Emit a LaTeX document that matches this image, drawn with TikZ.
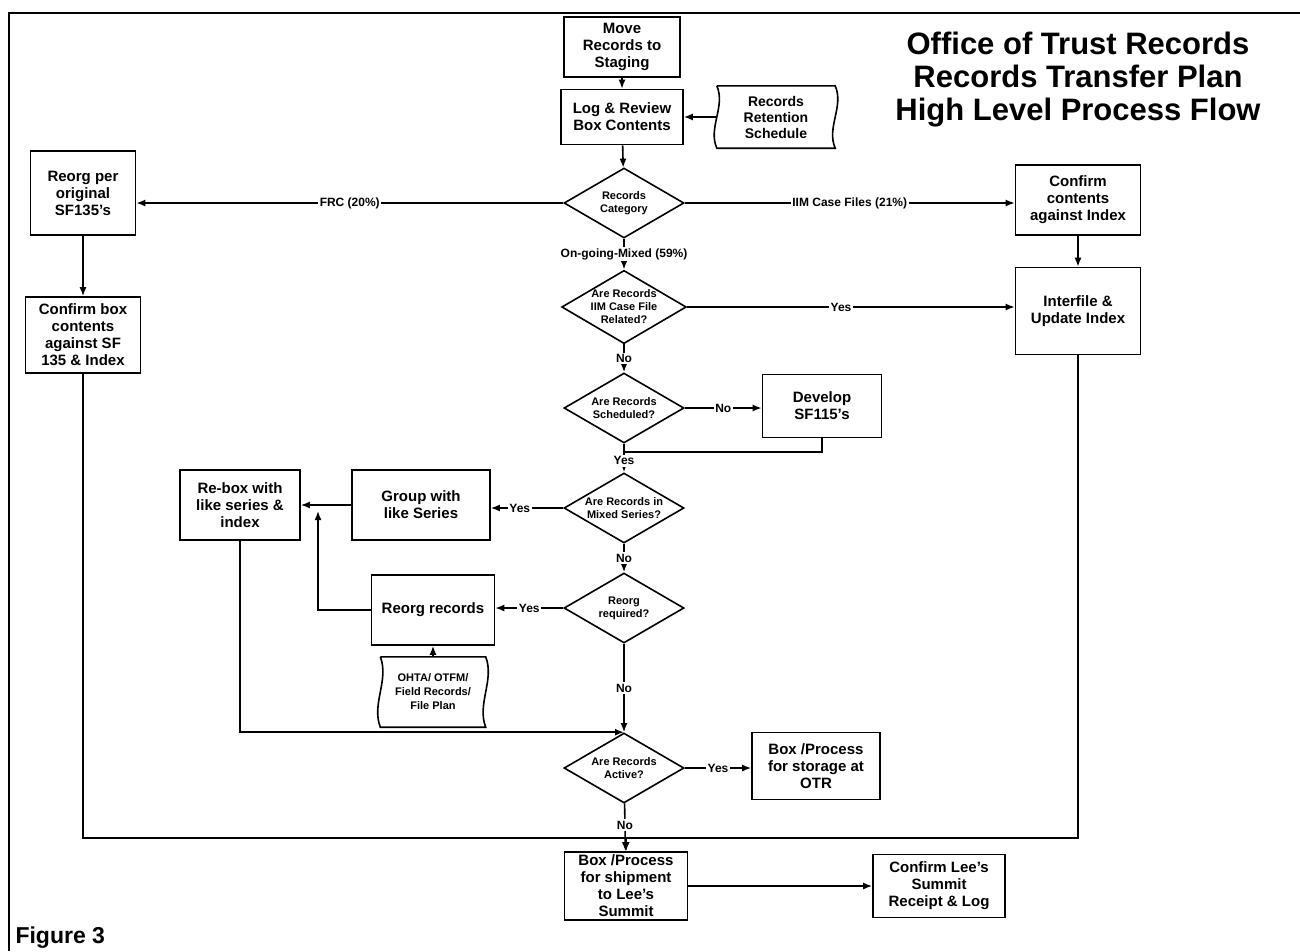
\documentclass[tikz,border=0pt]{standalone}
\usepackage{fontspec}
\setmainfont{Liberation Sans}
\usetikzlibrary{shapes.geometric,arrows.meta,calc}

% outline with wavy sides for the record sources
\newcommand{\tapeshape}[1]{%
  \draw[line width=1.6pt] (#1.north west) -- (#1.north east)
    .. controls ($(#1.north east)!0.33!(#1.south east)+(9,0)$) and ($(#1.north east)!0.67!(#1.south east)+(-9,0)$) .. (#1.south east)
    -- (#1.south west)
    .. controls ($(#1.north west)!0.67!(#1.south west)+(-9,0)$) and ($(#1.north west)!0.33!(#1.south west)+(9,0)$) .. (#1.north west);}

\begin{document}
\begin{tikzpicture}[x=1pt,y=-1pt] \tikzset{% This is the style settings for nodes
        box/.style={draw,line width=1.6pt,align=center,inner sep=2pt,font=\fontsize{15}{17}\selectfont\bfseries},
        dec/.style={diamond,draw,line width=1.6pt,aspect=1.7,inner sep=0pt,align=center,minimum width=120pt,minimum height=70pt,font=\fontsize{11}{13}\selectfont\bfseries},
        tape/.style={align=center,inner sep=2pt},
        lbl/.style={fill=white,inner sep=1.5pt,font=\fontsize{12}{14}\selectfont\bfseries},
        arr/.style={-{Latex[length=9pt,width=7pt]},line width=1.6pt},
        ln/.style={line width=1.6pt},
        }
        \useasboundingbox (0,0) rectangle (1300,951);
        \draw[line width=2pt] (9,951) -- (9,13) -- (1300,13);
        % Nodes
        \node[align=center,font=\fontsize{31}{33}\selectfont\bfseries] (title) at (1078,80) {Office of Trust Records\\Records Transfer Plan\\High Level Process Flow};
        \node[anchor=west,font=\fontsize{23}{26}\selectfont\bfseries] (fig) at (12,938) {Figure 3};
        \node[box,minimum width=116pt,minimum height=60pt] (move) at (622,47) {Move\\Records to\\Staging};
        \node[box,minimum width=122pt,minimum height=55pt] (log) at (622,117) {Log \& Review\\Box Contents};
        \node[tape,minimum width=118pt,minimum height=62pt,font=\fontsize{14}{16}\selectfont\bfseries] (ret) at (776,117) {Records\\Retention\\Schedule}; \tapeshape{ret}
        \node[dec] (cat) at (624,203) {Records\\Category};
        \node[box,minimum width=105pt,minimum height=84pt] (reorgp) at (83,193) {Reorg per\\original\\SF135's};
        \node[box,minimum width=125pt,minimum height=70pt] (confc) at (1078,200) {Confirm\\contents\\against Index};
        \node[dec] (iim) at (624,307) {Are Records\\IIM Case File\\Related?};
        \node[box,minimum width=125pt,minimum height=87pt] (interf) at (1078,311) {Interfile \&\\Update Index};
        \node[box,minimum width=115pt,minimum height=76pt] (confb) at (83,335) {Confirm box\\contents\\against SF\\135 \& Index};
        \node[dec] (sched) at (624,408) {Are Records\\Scheduled?};
        \node[box,minimum width=119pt,minimum height=63pt] (develop) at (822,406) {Develop\\SF115's};
        \node[dec] (mixed) at (624,508) {Are Records in\\Mixed Series?};
        \node[box,minimum width=138pt,minimum height=70pt] (group) at (421,505) {Group with\\like Series};
        \node[box,minimum width=120pt,minimum height=70pt] (rebox) at (240,505) {Re-box with\\like series \&\\index};
        \node[dec] (reorgq) at (624,608) {Reorg\\required?};
        \node[box,minimum width=123pt,minimum height=70pt] (reorgr) at (433,610) {Reorg records};
        \node[tape,minimum width=105pt,minimum height=70pt,font=\fontsize{11}{14}\selectfont\bfseries] (ohta) at (433,692) {OHTA/ OTFM/\\Field Records/\\File Plan}; \tapeshape{ohta}
        \node[dec] (active) at (624,768) {Are Records\\Active?};
        \node[box,minimum width=128pt,minimum height=67pt] (otr) at (816,766) {Box /Process\\for storage at\\OTR};
        \node[box,minimum width=123pt,minimum height=68pt] (ship) at (626,886) {Box /Process\\for shipment\\to Lee's\\Summit};
        \node[box,minimum width=132pt,minimum height=63pt] (conflee) at (939,886) {Confirm Lee's\\Summit\\Receipt \& Log};
        \coordinate (yesjoin) at (624,452);
        \coordinate (upjoin) at (318,511);
        \coordinate (merge) at (626,838);
        %Edges
        \draw[arr] (move) -- (log);
        \draw[arr] (ret.west) -- (log.east);
        \draw[arr] (log) -- (cat);
        \draw[arr] (cat.west) -- (cat.west -| reorgp.east) node[lbl,pos=0.5] {FRC (20\%)};
        \draw[arr] (cat.east) -- (cat.east -| confc.west) node[lbl,pos=0.5] {IIM Case Files (21\%)};
        \draw[arr] (cat) -- (iim) node[lbl,midway] {On-going-Mixed (59\%)};
        \draw[arr] (confc) -- (interf);
        \draw[arr] (iim.east) -- (iim.east -| interf.west) node[lbl,pos=0.47] {Yes};
        \draw[arr] (reorgp) -- (confb);
        \draw[arr] (iim) -- (sched) node[lbl,midway] {No};
        \draw[arr] (sched.east) -- (sched.east -| develop.west) node[lbl,midway] {No};
        \draw[ln] (develop.south) |- (yesjoin);
        \draw[arr] (sched) -- (mixed) node[lbl,pos=0.6] {Yes};
        \draw[arr] (mixed.west) -- (mixed.west -| group.east) node[lbl,pos=0.6] {Yes};
        \draw[arr] (group) -- (rebox);
        \draw[arr] (mixed) -- (reorgq) node[lbl,midway] {No};
        \draw[arr] (reorgq.west) -- (reorgq.west -| reorgr.east) node[lbl,midway] {Yes};
        \draw[arr] (reorgr.west) -| (upjoin);
        \draw[arr] (ohta) -- (reorgr);
        \draw[arr] (reorgq) -- (active) node[lbl,midway] {No};
        \draw[arr] (rebox.south) |- (active.north);
        \draw[arr] (active.east) -- (active.east -| otr.west) node[lbl,midway] {Yes};
        \draw[arr] (active) -- (ship) node[lbl,pos=0.45] {No};
        \draw[arr] (confb.south) |- (merge) -- (ship.north);
        \draw[arr] (interf.south) |- (merge) -- (ship.north);
        \draw[arr] (ship.east) -- (ship.east -| conflee.west);
\end{tikzpicture}
\end{document}
